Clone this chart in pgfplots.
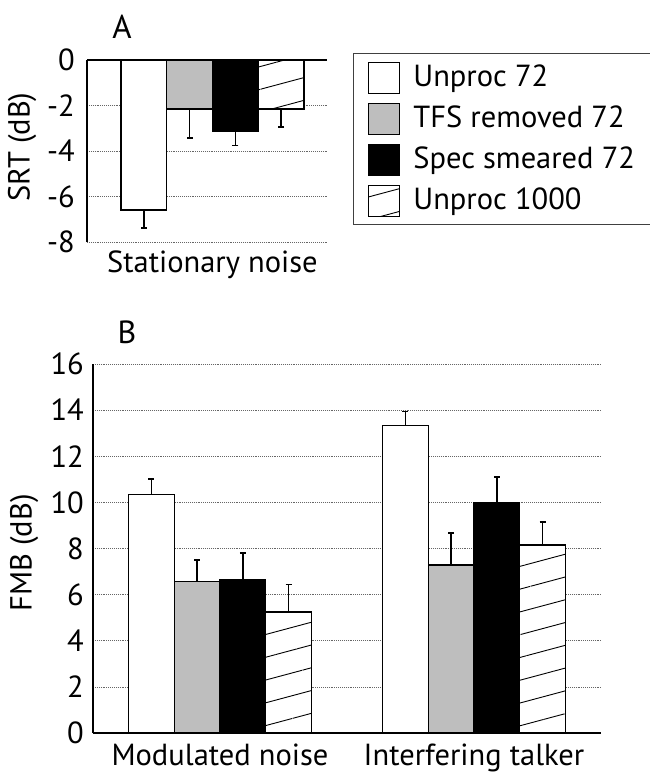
\documentclass[border=0pt]{standalone}
\usepackage{fontspec}
\setmainfont{PT Sans}
\usepackage{pgfplots}
\pgfplotsset{compat=1.18}
\usetikzlibrary{patterns.meta}
\definecolor{barGray}{RGB}{190,190,190}
\newcommand\bigfont{\fontsize{30.5pt}{36pt}\selectfont}
\pgfplotsset{
  myaxis/.style={
    scale only axis, anchor=south west, clip=false,
    axis y line*=left, axis x line*=bottom,
    y axis line style={line width=1.3pt},
    x axis line style={line width=1.8pt},
    ybar, bar width=0.18,
    ymajorgrids, major grid style={black!60, line width=0.7pt, dash pattern=on 0.7pt off 1.2pt},
    major tick length=0pt, tick style={draw=none},
    /pgf/number format/assume math mode=true,
    ticklabel style={font=\bigfont},
    yticklabel style={anchor=east, inner sep=0pt},
    xticklabel style={anchor=base, inner sep=0pt},
    every axis plot/.append style={draw=black, line width=1.4pt,
      error bars/error bar style={line width=1.5pt, black},
      error bars/error mark options={rotate=90, mark size=3pt, line width=1.5pt, black}},
  },
  hatchbar/.style={fill=white, postaction={pattern={Lines[angle=15,distance=22pt,line width=0.9pt]}}},
  boxlegend/.style={legend image code/.code={\coordinate (lgA) at (0pt,0pt); \draw[##1, line width=1pt] (6pt,-15pt) rectangle (37pt,16pt);}},
}
\begin{document}
\bigfont
\begin{tikzpicture}
\path[use as bounding box] (0pt,0pt) rectangle (650pt,-774pt);
% Panel A
\begin{axis}[myaxis, at={(87pt,-242pt)}, width=240pt, height=182pt,
  xmin=-0.494, xmax=0.451, ymin=-8, ymax=0,
  ytick={-8,-6,-4,-2,0}, yticklabel style={xshift=-12pt},
  xtick={0}, xticklabels={Stationary noise}, xticklabel style={yshift=-30pt},
  x axis line style={draw=none},
  error bars/y dir=minus, error bars/y explicit,
  legend style={at={(1.108,1.0385)}, anchor=north west, draw=black!75, line width=1pt,
    font=\bigfont, inner xsep=15pt, inner ysep=8pt, row sep=9pt,
    nodes={inner sep=0pt},
    /tikz/every odd column/.append style={column sep=13pt}},
  legend cell align=left]
\addplot[fill=white, bar shift=-0.27, boxlegend]
  coordinates {(0,-6.6) +- (0,0.78)};
\addplot[fill=barGray, bar shift=-0.09, boxlegend]
  coordinates {(0,-2.15) +- (0,1.28)};
\addplot[fill=black, bar shift=0.09, boxlegend]
  coordinates {(0,-3.15) +- (0,0.6)};
\addplot[hatchbar, bar shift=0.27, boxlegend]
  coordinates {(0,-2.15) +- (0,0.8)};
\legend{Unproc 72, TFS removed 72, Spec smeared 72, Unproc 1000}
\draw[line width=1.8pt] (rel axis cs:0,1) -- (rel axis cs:1,1);
\end{axis}
% Panel B
\begin{axis}[myaxis, at={(93pt,-733pt)}, width=508pt, height=369pt,
  xmin=-0.5, xmax=1.5, ymin=0, ymax=16,
  ytick={0,2,...,16}, yticklabel style={xshift=-9pt},
  xtick={0,1}, xticklabels={Modulated noise, Interfering talker}, xticklabel style={yshift=-32pt},
  error bars/y dir=plus, error bars/y explicit]
\addplot[fill=white, bar shift=-0.27]
  coordinates {(0,10.35) +- (0,0.67) (1,13.33) +- (0,0.6)};
\addplot[fill=barGray, bar shift=-0.09]
  coordinates {(0,6.58) +- (0,0.93) (1,7.28) +- (0,1.4)};
\addplot[fill=black, bar shift=0.09]
  coordinates {(0,6.65) +- (0,1.15) (1,9.98) +- (0,1.13)};
\addplot[hatchbar, bar shift=0.27]
  coordinates {(0,5.25) +- (0,1.2) (1,8.15) +- (0,1.0)};
\end{axis}
\node[rotate=90] at (22pt,-147pt) {SRT (dB)};
\node[rotate=90] at (24pt,-553pt) {FMB (dB)};
\node[font=\fontsize{33pt}{38pt}\selectfont] at (122pt,-27pt) {A};
\node[font=\fontsize{32pt}{38pt}\selectfont] at (127pt,-332pt) {B};
\end{tikzpicture}
\end{document}
